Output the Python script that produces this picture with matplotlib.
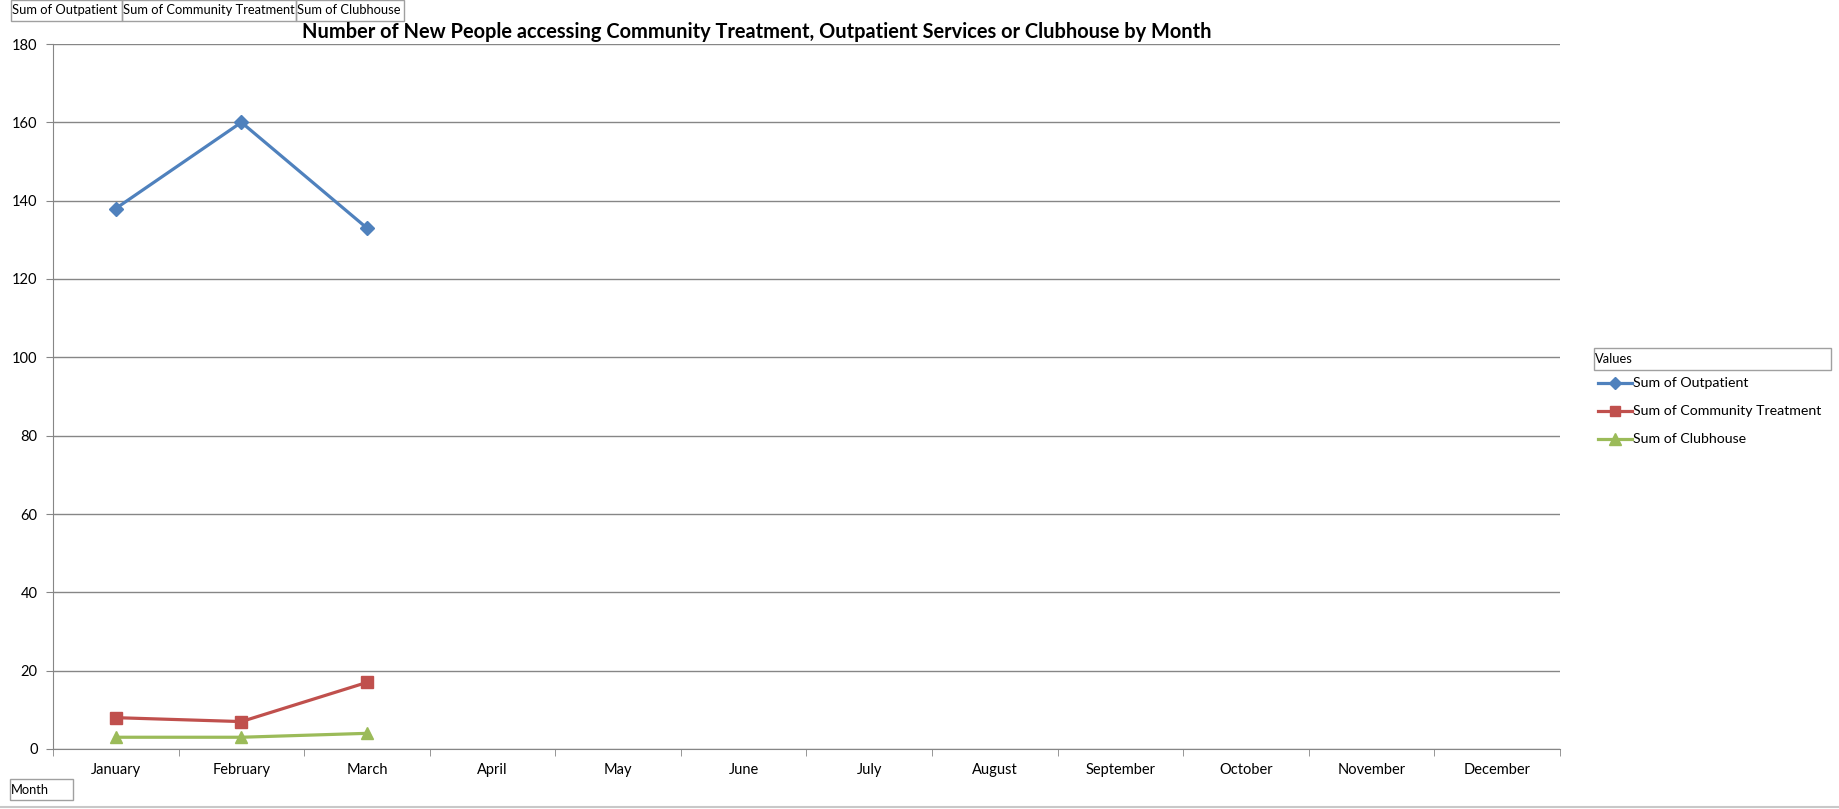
import matplotlib
matplotlib.use("Agg")
from matplotlib import pyplot as plt
from matplotlib.lines import Line2D
from matplotlib.patches import Rectangle

months = ["January", "February", "March", "April", "May", "June", "July",
          "August", "September", "October", "November", "December"]
outpatient = [138, 160, 133]
community = [8, 7, 17]
clubhouse = [3, 3, 4]
y_ticks = [0, 20, 40, 60, 80, 100, 120, 140, 160, 180]

plt.rcParams['font.family'] = ['Lato', 'DejaVu Sans']

W, H = 1839, 809
fig = plt.figure(figsize=(W / 100, H / 100), dpi=100)
ax = fig.add_axes([53 / W, 1 - 749 / H, (1560 - 53) / W, (749 - 44) / H])

blue, red, green = "#4F81BD", "#C0504D", "#9BBB59"
ax.plot(range(len(outpatient)), outpatient, color=blue, lw=2.3, marker="D", ms=7, zorder=3)
ax.plot(range(len(community)), community, color=red, lw=2.3, marker="s", ms=8, zorder=3)
ax.plot(range(len(clubhouse)), clubhouse, color=green, lw=2.3, marker="^", ms=9, zorder=3)

ax.set_xlim(-0.5, len(months) - 0.5)
ax.set_ylim(0, 180)
ax.set_yticks(y_ticks)
ax.set_xticks(range(len(months)))
ax.set_xticklabels(months, fontsize=10.5)
ax.set_xticks([i - 0.5 for i in range(len(months) + 1)], minor=True)
ax.tick_params(axis="x", which="major", length=0, pad=10)
ax.tick_params(axis="x", which="minor", length=5, color="#868686")
ax.tick_params(axis="y", length=5, color="#868686", labelsize=10.5, pad=6)
ax.grid(axis="y", color="#868686", lw=1)
ax.set_axisbelow(True)
for s in ["top", "right"]:
    ax.spines[s].set_visible(False)
for s in ["left", "bottom"]:
    ax.spines[s].set_color("#868686")

fig.text(757 / W, 1 - 32 / H, "Number of New People accessing Community Treatment, Outpatient Services or Clubhouse by Month",
         ha="center", va="center", fontsize=14.4, fontweight="bold")

# field buttons
def button(x0, x1, y0, y1, label):
    fig.patches.append(Rectangle((x0 / W, 1 - y1 / H), (x1 - x0) / W, (y1 - y0) / H,
                                 transform=fig.transFigure, fill=False, ec="#a0a0a0", lw=1))
    fig.text((x0 + 1) / W, 1 - (y0 + y1) / 2 / H, label, ha="left", va="center", fontsize=9.3)

button(11, 122, 0, 21, "Sum of Outpatient")
button(122, 296, 0, 21, "Sum of Community Treatment")
button(296, 404, 0, 21, "Sum of Clubhouse")
button(10, 73, 779, 800, "Month")
button(1594, 1831, 348, 370, "Values")

# legend
entries = [("Sum of Outpatient", blue, "D", 6), ("Sum of Community Treatment", red, "s", 7),
           ("Sum of Clubhouse", green, "^", 8)]
for i, (lab, c, m, ms) in enumerate(entries):
    y = 1 - (383 + 28 * i) / H
    fig.lines.append(Line2D([1598 / W, 1632 / W], [y, y], transform=fig.transFigure,
                            color=c, lw=2.3))
    fig.lines.append(Line2D([1615 / W], [y], transform=fig.transFigure, color=c,
                            marker=m, ms=ms))
    fig.text(1633 / W, y, lab, ha="left", va="center", fontsize=10.2)

fig.lines.append(Line2D([0, 1], [1 - 807 / H] * 2, transform=fig.transFigure, color="#c8c8c8", lw=1.5))

fig.savefig("out.png", dpi=100)
